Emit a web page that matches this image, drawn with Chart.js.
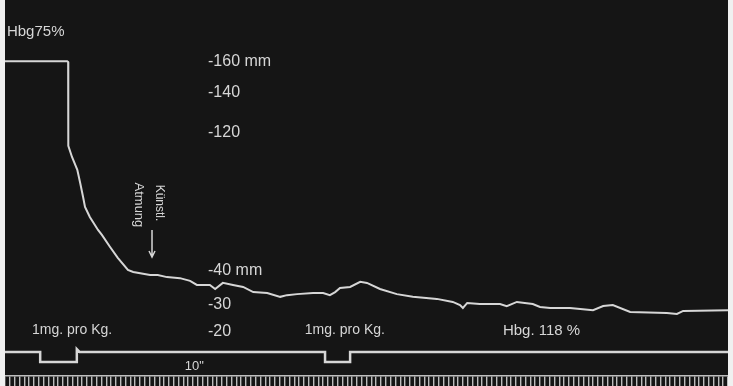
<!DOCTYPE html>
<html>
<head>
<meta charset="utf-8">
<script src="https://cdn.jsdelivr.net/npm/chart.js@4.4.0/dist/chart.umd.min.js"></script>
<style>
  body { margin: 0; background: #f0f0f0; }
  #wrap { position: absolute; left: 5px; top: 0; width: 723px; height: 386px; background: #151515; }
</style>
</head>
<body>
<div id="wrap"><canvas id="kymo" width="723" height="386"></canvas></div>
<script>
// Blutdruck (mm Hg) gegen Zeit (Sekunden)
const traceTime = [0, 12.9, 13.1, 13.1, 13.1, 13.2, 13.9, 15.0, 15.6, 16.2, 16.6, 17.6, 19.3, 20.1, 21.8, 23.4, 25.5, 26.6,
  30.1, 31.7, 33.6, 36.3, 38.4, 39.8, 42.5, 43.6, 45.2, 47.3, 49.4, 51.5, 54.4, 57.1, 58.5, 60.6, 63.9, 66.0, 67.4, 68.5,
  69.5, 71.6, 73.7, 75.1, 77.8, 81.3, 84.6, 89.6, 92.9, 94.4, 95.0, 95.9, 98.5, 102.7, 104.1, 106.2, 109.5, 111.0, 113.1, 117.2,
  122.0, 124.1, 126.1, 129.7, 137.3, 139.4, 140.7, 150];
const tracePressure = [160.5, 160.5, 160, 140, 120, 112.5, 106.1, 98.6, 91.0, 82.9, 77.1, 71.3, 63.8, 60.9, 53.9, 47.6, 40.6, 39.7,
  38.8, 38.8, 38.2, 37.9, 37.1, 35.9, 35.9, 34.7, 36.5, 35.9, 35.3, 33.8, 33.5, 32.4, 32.9, 33.2, 33.5, 33.5, 32.9, 33.8,
  35.0, 35.3, 36.8, 36.5, 34.7, 33.2, 32.4, 31.8, 30.9, 30.0, 28.9, 30.6, 30.3, 30.3, 29.6, 30.9, 30.3, 29.3, 28.9, 28.9,
  28.1, 29.6, 30.0, 27.4, 27.0, 26.7, 27.8, 28.1];

// Signal (Injektion = 0)
const signalTime = [0, 7.3, 7.3, 14.9, 14.9, 15.5, 66.4, 66.4, 71.6, 71.6, 150];
const signalLevel = [1, 1, 0, 0, 1.3, 1, 1, 0, 0, 1, 1];

// Manometerskala
const scaleMarks = [20, 30, 40, 120, 140, 160];
const scaleLabels = ['-20', '-30', '-40 mm', '-120', '-140', '-160 mm'];

// Zeitschreibung, 1 Strich pro Sekunde
const timeStart = 0;
const timeEnd = 150;

// Eichung der Skala (mm Hg -> Hoehe im Diagramm, 0..1)
const calibMm = [20, 30, 40, 120, 140, 160];
const calibHeight = [0.117, 0.1888, 0.2793, 0.6463, 0.7527, 0.8351];

function interp(v, xs, ys) {
  let i = 0;
  while (i < xs.length - 2 && v > xs[i + 1]) i++;
  return ys[i] + (v - xs[i]) * (ys[i + 1] - ys[i]) / (xs[i + 1] - xs[i]);
}

class Manometer extends Chart.LinearScale {
  getPixelForValue(value) {
    if (value === null || value === undefined || isNaN(value)) return NaN;
    return this.getPixelForDecimal(interp(value, calibMm, calibHeight));
  }
  getValueForPixel(pixel) {
    return interp(this.getDecimalForPixel(pixel), calibHeight, calibMm);
  }
}
Manometer.id = 'manometer';
Chart.register(Manometer);

const ink = '#d6d6d6';
const fontName = '"Liberation Sans", Arial, sans-serif';

const notes = [
  { text: 'Hbg75%', t: 0.4, p: 179.5, size: 15 },
  { text: '1mg. pro Kg.', t: 5.6, p: 20.7, size: 14 },
  { text: '1mg. pro Kg.', t: 62.2, p: 20.7, size: 14 },
  { text: 'Hbg. 118 %', t: 103.3, p: 20.4, size: 15 },
  { text: '10"', t: 37.3, p: 7.4, size: 13 },
  { text: 'Künstl.', t: 32.0, p: 79.4, size: 12, rotate: true },
  { text: 'Atmung', t: 27.7, p: 78.3, size: 13, rotate: true }
];
const arrow = { t: 30.5, from: 63.8, to: 48.1 };

const notesPlugin = {
  id: 'notes',
  afterDatasetsDraw(chart) {
    const ctx = chart.ctx;
    const sx = chart.scales.x, sy = chart.scales.y;
    ctx.save();
    ctx.fillStyle = ink;
    ctx.strokeStyle = ink;
    ctx.textBaseline = 'middle';
    notes.forEach(n => {
      const x = sx.getPixelForValue(n.t);
      const y = sy.getPixelForValue(n.p);
      ctx.font = n.size + 'px ' + fontName;
      if (n.rotate) {
        ctx.save();
        ctx.translate(x, y);
        ctx.rotate(Math.PI / 2);
        ctx.textAlign = 'center';
        ctx.fillText(n.text, 0, 0);
        ctx.restore();
      } else {
        ctx.textAlign = 'left';
        ctx.fillText(n.text, x, y);
      }
    });
    // Pfeil
    const ax = sx.getPixelForValue(arrow.t);
    const ay1 = sy.getPixelForValue(arrow.from);
    const ay2 = sy.getPixelForValue(arrow.to);
    ctx.lineWidth = 1.5;
    ctx.beginPath();
    ctx.moveTo(ax, ay1);
    ctx.lineTo(ax, ay2);
    ctx.moveTo(ax - 3, ay2 - 6);
    ctx.lineTo(ax, ay2);
    ctx.lineTo(ax + 3, ay2 - 6);
    ctx.stroke();
    ctx.restore();
  }
};

Chart.defaults.font.family = fontName;

new Chart(document.getElementById('kymo'), {
  type: 'line',
  data: {
    datasets: [
      {
        label: 'Blutdruck',
        data: traceTime.map((t, i) => ({ x: t, y: tracePressure[i] })),
        borderColor: ink,
        borderWidth: 2,
        pointRadius: 0,
        tension: 0,
        yAxisID: 'y'
      },
      {
        label: 'Signal',
        data: signalTime.map((t, i) => ({ x: t, y: signalLevel[i] })),
        borderColor: ink,
        borderWidth: 2.5,
        pointRadius: 0,
        tension: 0,
        yAxisID: 'sig'
      }
    ]
  },
  options: {
    responsive: false,
    animation: false,
    layout: { padding: 0 },
    plugins: { legend: { display: false }, tooltip: { enabled: false } },
    scales: {
      x: {
        type: 'linear',
        min: timeStart,
        max: timeEnd,
        position: 'bottom',
        ticks: { display: false, stepSize: 1, autoSkip: false },
        grid: { drawOnChartArea: false, tickLength: 10, color: '#bdbdbd', lineWidth: 1.4 },
        border: { color: '#bdbdbd', width: 1.5 }
      },
      y: {
        type: 'manometer',
        position: 'left',
        min: 0,
        max: 200,
        afterBuildTicks: s => { s.ticks = scaleMarks.map(v => ({ value: v })); },
        afterFit: s => { s.width = 0; s.paddingTop = 0; s.paddingBottom = 0; },
        grid: { display: false, drawTicks: false },
        border: { display: false },
        ticks: {
          mirror: true,
          padding: 203,
          color: ink,
          font: { size: 16 },
          callback: (v, i) => scaleLabels[i]
        }
      },
      sig: { type: 'linear', display: false, min: -1.4, max: 36.2 }
    }
  },
  plugins: [notesPlugin]
});
</script>
</body>
</html>
